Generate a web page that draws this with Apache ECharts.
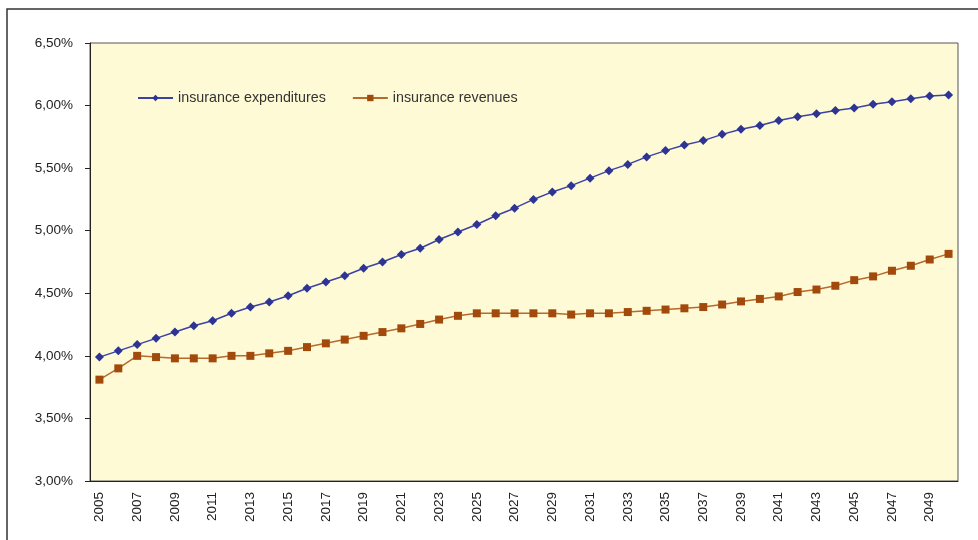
<!DOCTYPE html>
<html>
<head>
<meta charset="utf-8">
<script src="https://cdn.jsdelivr.net/npm/echarts@6/dist/echarts.min.js"></script>
<style>
  html, body { margin: 0; padding: 0; background: #fff; }
  #chart { width: 978px; height: 540px; }
</style>
</head>
<body>
<div id="chart"></div>
<script>
// years on the x axis
const years = []
for (let y = 2005; y <= 2050; y++) years.push(String(y))

// insurance expenditures, %
const expenditures = [
  3.99, 4.04, 4.09, 4.14, 4.19, 4.24, 4.28, 4.34, 4.39, 4.43,
  4.48, 4.54, 4.59, 4.64, 4.70, 4.75, 4.81, 4.86, 4.93, 4.99,
  5.05, 5.12, 5.18, 5.25, 5.31, 5.36, 5.42, 5.48, 5.53, 5.59,
  5.64, 5.685, 5.72, 5.77, 5.81, 5.84, 5.88, 5.91, 5.935, 5.96,
  5.98, 6.01, 6.03, 6.055, 6.077, 6.085
]

// insurance revenues, %
const revenues = [
  3.81, 3.90, 4.00, 3.99, 3.98, 3.98, 3.98, 4.00, 4.00, 4.02,
  4.04, 4.07, 4.10, 4.13, 4.16, 4.19, 4.22, 4.255, 4.29, 4.32,
  4.34, 4.34, 4.34, 4.34, 4.34, 4.33, 4.34, 4.34, 4.35, 4.36,
  4.37, 4.38, 4.39, 4.41, 4.435, 4.455, 4.475, 4.51, 4.53, 4.56,
  4.605, 4.635, 4.68, 4.72, 4.77, 4.815
]

const chart = echarts.init(document.getElementById('chart'))

const txt = { fontFamily: 'Liberation Sans, Arial, sans-serif', fontSize: 13.5, color: '#222' }

chart.setOption({
  animation: false,
  graphic: [{
    type: 'rect',
    shape: { x: 7, y: 9, width: 1000, height: 600 },
    style: { fill: 'none', stroke: '#333', lineWidth: 1.5 },
    z: -1
  }],
  grid: {
    left: 90, right: 20, top: 43, bottom: 59,
    show: true,
    backgroundColor: '#FFFAD6',
    borderColor: '#555',
    borderWidth: 1
  },
  legend: {
    left: 137, top: 91, padding: 0,
    itemWidth: 35, itemHeight: 8, itemGap: 26,
    textStyle: { fontFamily: txt.fontFamily, fontSize: 14.3, color: '#333' },
    data: ['insurance expenditures', 'insurance revenues']
  },
  xAxis: {
    type: 'category',
    data: years,
    boundaryGap: true,
    axisLine: { lineStyle: { color: '#222', width: 1 } },
    axisTick: { interval: 0, length: 5, lineStyle: { color: '#222' } },
    axisLabel: Object.assign({ interval: 1, rotate: 90, margin: 11 }, txt)
  },
  yAxis: {
    type: 'value',
    min: 3, max: 6.5, interval: 0.5,
    splitLine: { show: false },
    axisLine: { show: true, lineStyle: { color: '#222', width: 1 } },
    axisTick: { show: true, length: 5, lineStyle: { color: '#222' } },
    axisLabel: Object.assign({
      margin: 17,
      formatter: v => v.toFixed(2).replace('.', ',') + '%'
    }, txt)
  },
  series: [
    {
      name: 'insurance expenditures',
      type: 'line',
      data: expenditures,
      symbol: 'diamond',
      symbolSize: 9,
      itemStyle: { color: '#2E3494' },
      lineStyle: { color: '#3A42A4', width: 1.5 }
    },
    {
      name: 'insurance revenues',
      type: 'line',
      data: revenues,
      symbol: 'rect',
      symbolSize: 8,
      itemStyle: { color: '#A24A0C' },
      lineStyle: { color: '#B8692C', width: 1.5 }
    }
  ]
})
</script>
</body>
</html>
